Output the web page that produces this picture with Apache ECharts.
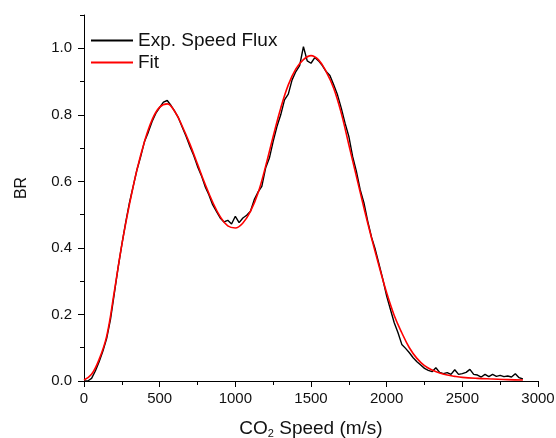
<!DOCTYPE html>
<html>
<head>
<meta charset="utf-8">
<script src="https://cdn.jsdelivr.net/npm/echarts@6/dist/echarts.min.js"></script>
<style>
html,body{margin:0;padding:0;background:#fff;}
#chart{width:556px;height:438px;}
</style>
</head>
<body>
<div id="chart"></div>
<script>
// Experimental speed flux (m/s, BR)
var expSpeed = [0,25,50,75,100,125,150,175,200,225,250,275,300,325,350,375,400,425,450,475,500,525,550,575,600,625,650,675,700,725,750,775,800,825,850,875,900,925,950,975,1000,1025,1050,1075,1100,1125,1150,1175,1200,1225,1250,1275,1300,1325,1350,1375,1400,1425,1450,1475,1500,1525,1550,1575,1600,1625,1650,1675,1700,1725,1750,1775,1800,1825,1850,1875,1900,1925,1950,1975,2000,2025,2050,2075,2100,2125,2150,2175,2200,2225,2250,2275,2300,2325,2350,2375,2400,2425,2450,2475,2500,2525,2550,2575,2600,2625,2650,2675,2700,2725,2750,2775,2800,2825,2850,2875,2900];
var expBR = [0.0,0.0,0.008,0.03,0.058,0.09,0.128,0.185,0.262,0.34,0.41,0.475,0.535,0.585,0.635,0.675,0.72,0.748,0.78,0.805,0.822,0.838,0.843,0.828,0.81,0.79,0.762,0.735,0.705,0.678,0.645,0.618,0.585,0.56,0.53,0.51,0.49,0.478,0.483,0.472,0.495,0.476,0.49,0.498,0.51,0.545,0.568,0.585,0.64,0.67,0.72,0.765,0.8,0.845,0.862,0.905,0.93,0.948,1.005,0.962,0.955,0.972,0.962,0.948,0.93,0.918,0.89,0.86,0.82,0.775,0.735,0.675,0.63,0.575,0.535,0.48,0.432,0.395,0.35,0.305,0.255,0.215,0.175,0.145,0.11,0.098,0.085,0.07,0.058,0.048,0.038,0.032,0.028,0.04,0.026,0.022,0.025,0.02,0.034,0.02,0.022,0.026,0.035,0.02,0.018,0.012,0.02,0.013,0.02,0.014,0.017,0.013,0.015,0.012,0.022,0.01,0.006];

// Fit curve
var fitSpeed = [0,50,100,150,200,250,300,350,400,450,500,550,600,650,700,750,800,850,900,950,1000,1050,1100,1150,1200,1250,1300,1350,1400,1450,1500,1550,1600,1650,1700,1750,1800,1850,1900,1950,2000,2050,2100,2150,2200,2250,2300,2350,2400,2450,2500,2600,2700,2800,2900];
var fitBR = [0.003,0.02,0.065,0.135,0.268,0.41,0.53,0.635,0.72,0.785,0.823,0.833,0.81,0.765,0.712,0.652,0.592,0.538,0.494,0.466,0.46,0.475,0.51,0.565,0.645,0.735,0.82,0.89,0.938,0.966,0.978,0.965,0.93,0.88,0.805,0.71,0.615,0.52,0.43,0.345,0.265,0.197,0.145,0.1,0.068,0.046,0.033,0.024,0.018,0.014,0.011,0.008,0.006,0.004,0.003];

var seriesNames = ['Exp. Speed Flux', 'Fit'];
var xTicks = [0, 500, 1000, 1500, 2000, 2500, 3000];
var yTicks = [0.0, 0.2, 0.4, 0.6, 0.8, 1.0];
var yTitle = 'BR';

function zip(a, b) { return a.map(function (v, i) { return [v, b[i]]; }); }

var font = 'Liberation Sans, Arial, sans-serif';
var chart = echarts.init(document.getElementById('chart'), null, {renderer: 'canvas'});
chart.setOption({
  animation: false,
  backgroundColor: '#fff',
  grid: {left: 84, right: 18, top: 15, bottom: 57, containLabel: false, outerBoundsMode: 'none'},
  legend: {
    left: 86, top: 26, orient: 'vertical',
    icon: 'rect', itemWidth: 42, itemHeight: 2, itemGap: 3,
    data: seriesNames,
    textStyle: {fontFamily: font, fontSize: 19, color: '#111'}
  },
  graphic: [{
    type: 'text', x: 22, y: 188, rotation: Math.PI / 2,
    style: {text: yTitle, fontFamily: font, fontSize: 16, fill: '#111',
      align: 'center', verticalAlign: 'middle', textAlign: 'center', textVerticalAlign: 'middle'}
  }],
  xAxis: {
    type: 'value', min: xTicks[0], max: xTicks[xTicks.length - 1], interval: 500,
    name: 'CO{sub|2} Speed (m/s)', nameLocation: 'middle', nameGap: 37,
    nameTextStyle: {fontFamily: font, fontSize: 19, color: '#111',
      rich: {sub: {fontFamily: font, fontSize: 11, color: '#111', verticalAlign: 'bottom', padding: [10, 0, 0, 0]}}},
    axisLine: {show: true, lineStyle: {color: '#000', width: 1}},
    axisTick: {show: true, inside: false, length: 6, lineStyle: {color: '#000'}},
    minorTick: {show: true, splitNumber: 2, length: 4, lineStyle: {color: '#000'}},
    axisLabel: {fontFamily: font, fontSize: 15, color: '#111', margin: 10,
      formatter: function (v) { return xTicks.indexOf(v) >= 0 ? String(v) : ''; }},
    splitLine: {show: false}
  },
  yAxis: [{
    type: 'value', min: 0, max: 1.1, interval: 0.2,
    axisLine: {show: true, onZero: false, lineStyle: {color: '#000', width: 1}},
    axisTick: {show: true, inside: false, length: 6, lineStyle: {color: '#000'}},
    axisLabel: {fontFamily: font, fontSize: 15, color: '#111', margin: 12, showMaxLabel: false,
      formatter: function (v) {
        for (var i = 0; i < yTicks.length; i++) { if (Math.abs(v - yTicks[i]) < 1e-6) return yTicks[i].toFixed(1); }
        return '';
      }},
    splitLine: {show: false}
  }, {
    type: 'value', min: 0, max: 1.1, interval: 0.1, position: 'left',
    axisLine: {show: false},
    axisTick: {show: true, inside: false, length: 4, lineStyle: {color: '#000'}},
    axisLabel: {show: false},
    splitLine: {show: false}
  }],
  series: [{
    name: seriesNames[0], type: 'line', yAxisIndex: 0,
    data: zip(expSpeed, expBR), showSymbol: false, symbol: 'none',
    lineStyle: {color: '#000', width: 1.4}, itemStyle: {color: '#000'}
  }, {
    name: seriesNames[1], type: 'line', yAxisIndex: 0,
    data: zip(fitSpeed, fitBR), showSymbol: false, symbol: 'none', smooth: 0.4,
    lineStyle: {color: '#ff0000', width: 1.6}, itemStyle: {color: '#ff0000'}
  }]
});
</script>
</body>
</html>
